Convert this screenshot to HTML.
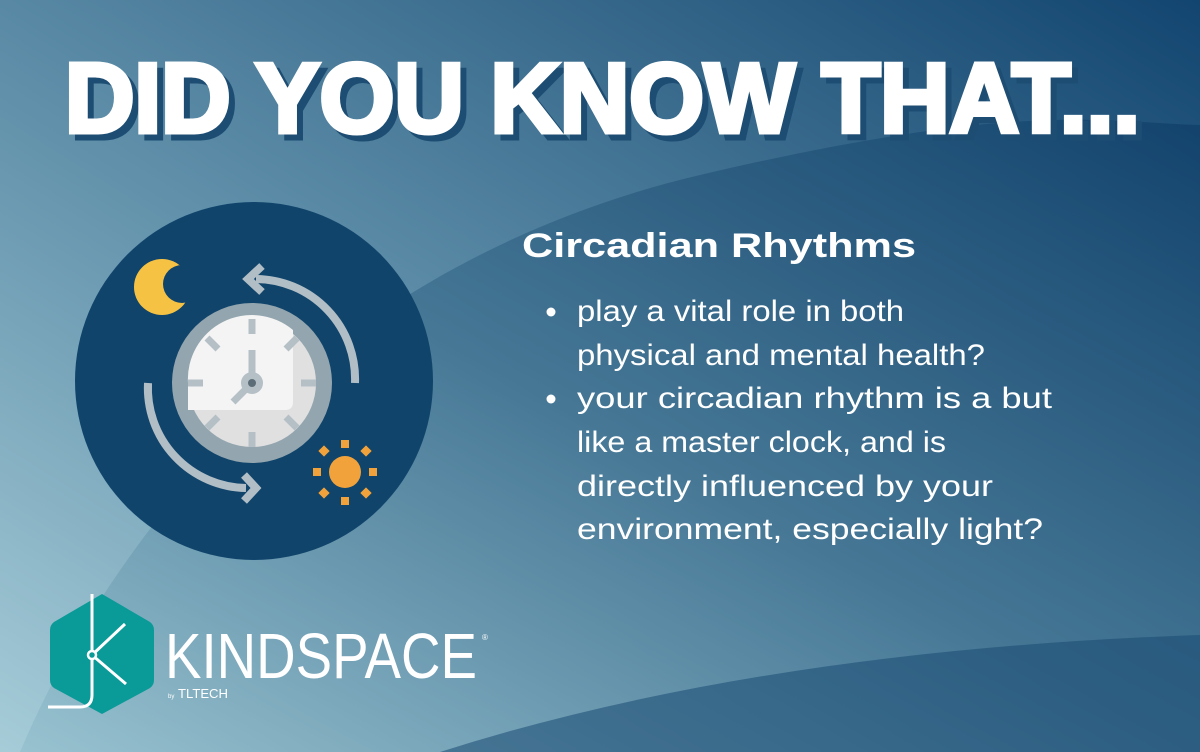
<!DOCTYPE html>
<html><head><meta charset="utf-8"><style>
html,body{margin:0;padding:0;width:1200px;height:752px;overflow:hidden;}
svg{display:block;font-family:"Liberation Sans",sans-serif;}
</style></head><body>
<svg width="1200" height="752" viewBox="0 0 1200 752">
<defs>
<linearGradient id="bg" x1="0" y1="1" x2="1" y2="0">
<stop offset="0" stop-color="#a6ccd8"/><stop offset="0.45" stop-color="#5f8fa9"/><stop offset="1" stop-color="#124570"/>
</linearGradient>
<linearGradient id="bg2" x1="0" y1="1" x2="1" y2="0">
<stop offset="0" stop-color="#94bfcd"/><stop offset="0.5" stop-color="#3f7190"/><stop offset="1" stop-color="#0f3f69"/>
</linearGradient>
</defs>
<rect width="1200" height="752" fill="url(#bg)"/>
<path d="M20 752 C140 470 380 250 700 175 S1100 122 1200 125 L1200 752 Z" fill="url(#bg2)" opacity="0.75"/>
<path d="M440 752 Q760 650 1200 635 L1200 752 Z" fill="#1a4b72" opacity="0.55"/>

<g font-weight="bold" font-size="98">
<text x="71" y="138" textLength="1075" lengthAdjust="spacingAndGlyphs" fill="#1d4d72" stroke="#1d4d72" stroke-width="5">DID YOU KNOW THAT...</text>
<text x="65" y="132" textLength="1075" lengthAdjust="spacingAndGlyphs" fill="#ffffff" stroke="#ffffff" stroke-width="5">DID YOU KNOW THAT...</text>
</g>

<g>
<circle cx="254" cy="381" r="179" fill="#10446b"/>
<g>
<circle cx="162" cy="287" r="28" fill="#f6c244"/>
<circle cx="182" cy="284" r="19" fill="#10446b"/>
</g>
<g fill="#f2a23a">
<circle cx="345" cy="472" r="16"/>
<rect x="341" y="440" width="8" height="8"/><rect x="341" y="497" width="8" height="8"/>
<rect x="313" y="468" width="8" height="8"/><rect x="369" y="468" width="8" height="8"/>
<rect x="320" y="447" width="8" height="8" transform="rotate(45 324 451)"/><rect x="362" y="447" width="8" height="8" transform="rotate(45 366 451)"/>
<rect x="320" y="489" width="8" height="8" transform="rotate(45 324 493)"/><rect x="362" y="489" width="8" height="8" transform="rotate(45 366 493)"/>
</g>
<g fill="none" stroke="#b1bec6" stroke-width="8">
<path d="M355 383 A100 100 0 0 0 256 279"/>
<path d="M262 266 L248 279 L262 292"/>
<path d="M148 383 A100 100 0 0 0 246 488"/>
<path d="M244 475 L256 488 L244 501"/>
</g>
<circle cx="252" cy="383" r="80" fill="#93a5ae"/>
<circle cx="252" cy="383" r="64" fill="#e0e0e0"/>
<path d="M188 410 L285 410 Q293 410 293 402 L293 330 A64 64 0 0 0 188 383 Z" fill="#f4f4f4"/>
<g stroke="#b5c0c6" stroke-width="7">
<line x1="252" y1="319" x2="252" y2="334"/><line x1="252" y1="432" x2="252" y2="447"/>
<line x1="188" y1="383" x2="203" y2="383"/><line x1="301" y1="383" x2="316" y2="383"/>
<line x1="207" y1="338" x2="218" y2="349"/><line x1="297" y1="338" x2="286" y2="349"/>
<line x1="207" y1="428" x2="218" y2="417"/><line x1="297" y1="428" x2="286" y2="417"/>
<line x1="252" y1="383" x2="252" y2="350"/><line x1="252" y1="383" x2="233" y2="402"/>
</g>
<circle cx="252" cy="383" r="11" fill="#b5c0c6"/><circle cx="252" cy="383" r="4" fill="#5c6d77"/>
</g>

<text x="522" y="257" font-size="34" font-weight="bold" fill="#fff" textLength="394" lengthAdjust="spacingAndGlyphs">Circadian Rhythms</text>

<g fill="#fff" font-size="30">
<circle cx="551" cy="312" r="4.5"/>
<circle cx="551" cy="399" r="4.5"/>
<text x="577" y="321" textLength="327" lengthAdjust="spacingAndGlyphs">play a vital role in both</text>
<text x="577" y="365" textLength="408" lengthAdjust="spacingAndGlyphs">physical and mental health?</text>
<text x="577" y="408" textLength="475" lengthAdjust="spacingAndGlyphs">your circadian rhythm is a but</text>
<text x="577" y="452" textLength="369" lengthAdjust="spacingAndGlyphs">like a master clock, and is</text>
<text x="577" y="496" textLength="416" lengthAdjust="spacingAndGlyphs">directly influenced by your</text>
<text x="577" y="539" textLength="466" lengthAdjust="spacingAndGlyphs">environment, especially light?</text>
</g>

<g>
<path d="M102 594 L150 622 Q154 625 154 630 L154 680 Q154 685 150 688 L102 714 L54 688 Q50 685 50 680 L50 630 Q50 625 54 622 Z" fill="#0a9a97"/>
<g stroke="#fff" stroke-width="3" fill="none">
<path d="M92 594 L92 695 Q92 707 80 707 L48 707"/>
<line x1="92" y1="655" x2="125" y2="624"/><line x1="92" y1="655" x2="126" y2="684"/>
</g>
<circle cx="92" cy="655" r="4" fill="#0a9a97" stroke="#fff" stroke-width="2.5"/>
<text x="165" y="678" font-size="64" fill="#fff" textLength="312" lengthAdjust="spacingAndGlyphs" style="font-weight:100">KINDSPACE</text>
<text x="482" y="640" font-size="8" fill="#fff">®</text>
<text x="168" y="698" font-size="6" fill="#fff">by</text>
<text x="178" y="698" font-size="13" fill="#fff" textLength="50" lengthAdjust="spacingAndGlyphs">TLTECH</text>
</g>
</svg>
</body></html>
